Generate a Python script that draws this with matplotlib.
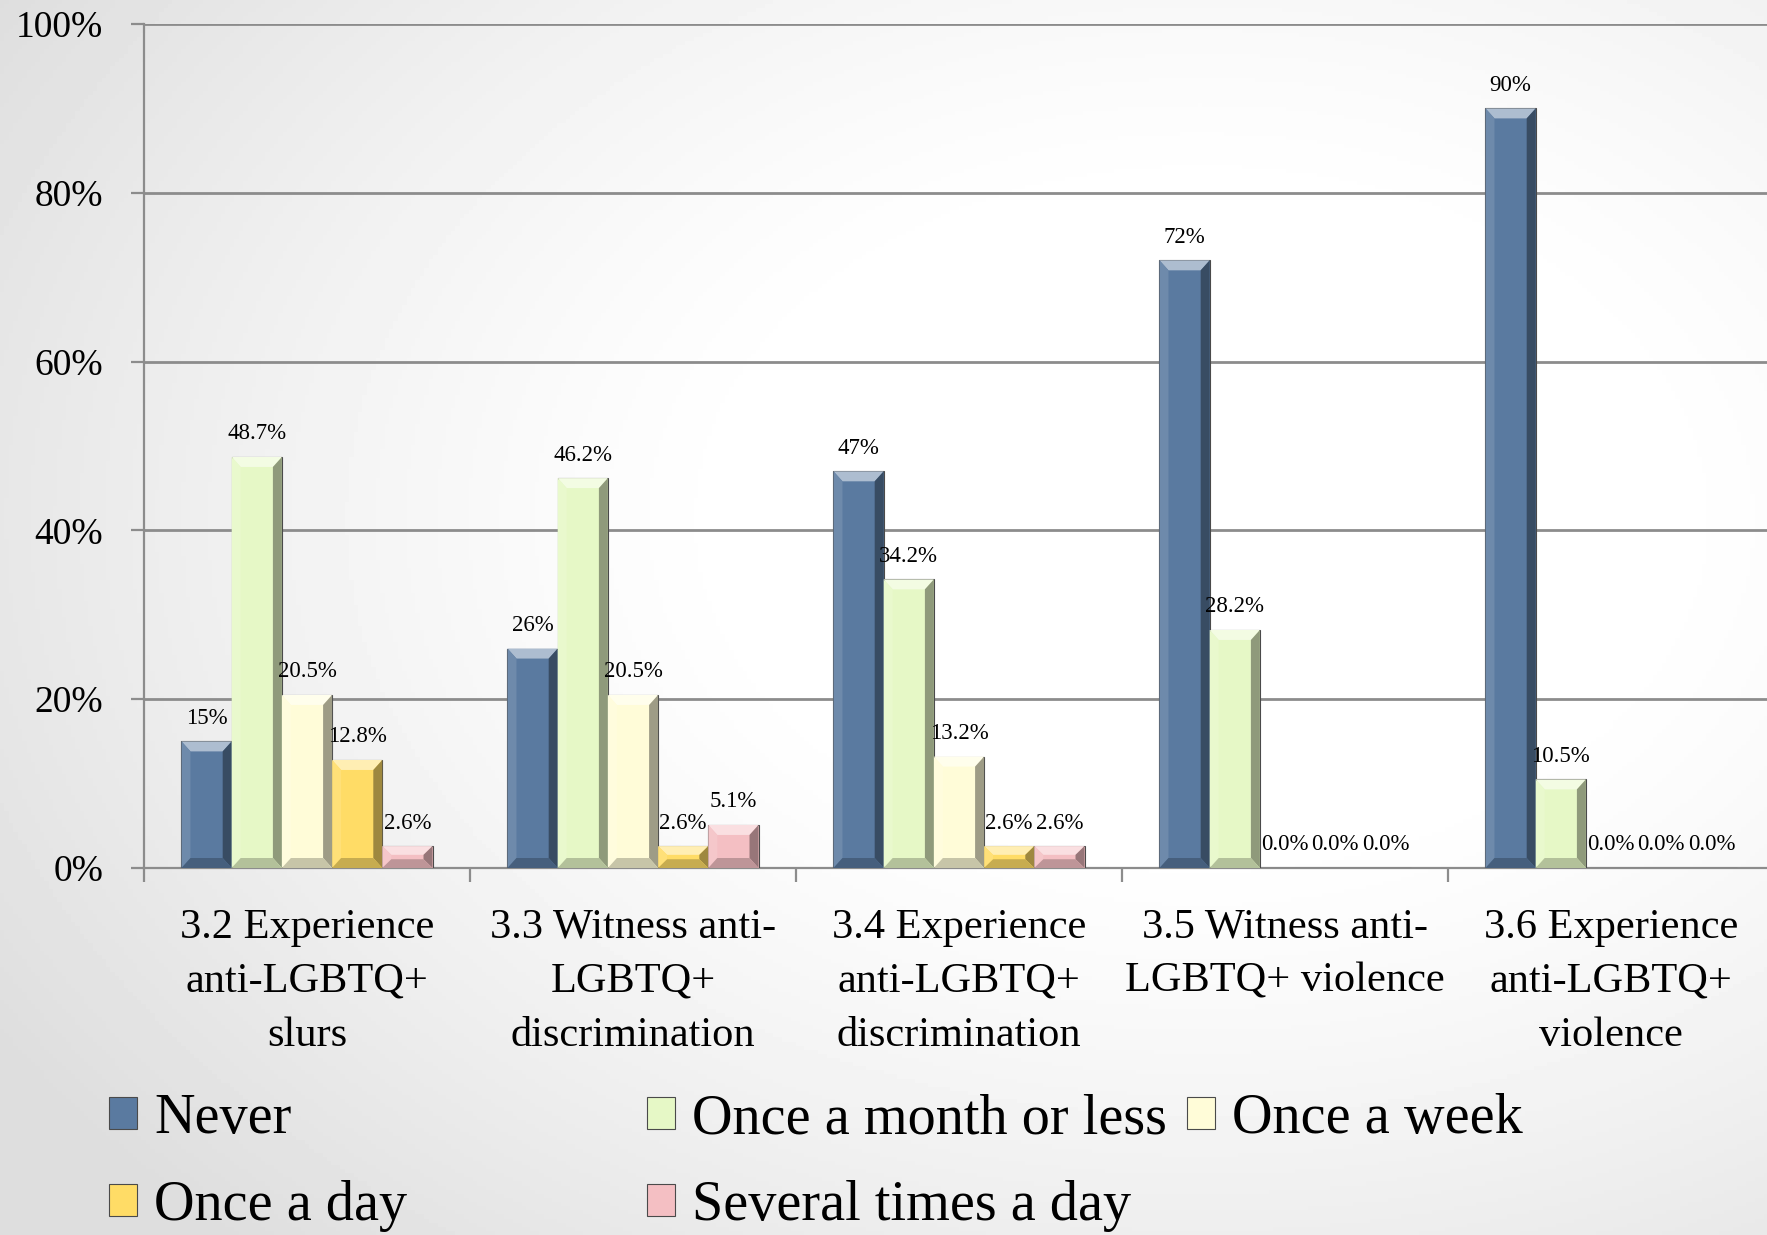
import numpy as np
import matplotlib
matplotlib.use("Agg")
import matplotlib.pyplot as plt
from matplotlib.patches import Polygon
from matplotlib import colors as mcolors

categories = [
    "3.2 Experience\nanti-LGBTQ+\nslurs",
    "3.3 Witness anti-\nLGBTQ+\ndiscrimination",
    "3.4 Experience\nanti-LGBTQ+\ndiscrimination",
    "3.5 Witness anti-\nLGBTQ+ violence",
    "3.6 Experience\nanti-LGBTQ+\nviolence",
]
series_names = ["Never", "Once a month or less", "Once a week", "Once a day", "Several times a day"]
never = [15, 26, 47, 72, 90]
once_month = [48.7, 46.2, 34.2, 28.2, 10.5]
once_week = [20.5, 20.5, 13.2, 0.0, 0.0]
once_day = [12.8, 2.6, 2.6, 0.0, 0.0]
several_day = [2.6, 5.1, 2.6, 0.0, 0.0]
label_formats = ["{:.0f}%", "{:.1f}%", "{:.1f}%", "{:.1f}%", "{:.1f}%"]
series_values = [never, once_month, once_week, once_day, several_day]
series_colors = ["#5A7AA0", "#E6F8C6", "#FFFCD8", "#FFDC66", "#F4BFC3"]
yticks = [0, 20, 40, 60, 80, 100]

FONT = "Liberation Serif"
plt.rcParams["font.family"] = [FONT, "DejaVu Serif"]

W, H, DPI = 1767, 1235, 100
fig = plt.figure(figsize=(W / DPI, H / DPI), dpi=DPI)

# background gradient
bg = fig.add_axes([0, 0, 1, 1], zorder=-10)
yy, xx = np.mgrid[0:1:300j, 0:1:400j]
r = np.sqrt(((xx - 0.68) / 1.0) ** 2 + ((yy - 0.42) / 1.0) ** 2)
val = 1.0 - 0.13 * np.clip((r - 0.25) / 0.55, 0, 1) ** 1.3
bg.imshow(val, cmap="gray", vmin=0, vmax=1, aspect="auto", extent=[0, 1, 0, 1], origin="upper")
bg.axis("off")

ax_left, ax_bottom = 144 / W, 1 - 868 / H
ax_w, ax_h = 1630 / W, (868 - 24) / H
ax = fig.add_axes([ax_left, ax_bottom, ax_w, ax_h])
ax.patch.set_alpha(0)

n = len(series_values)
x = np.arange(len(categories))
bw = 0.154
offsets = (np.arange(n) - (n - 1) / 2) * bw
ax.set_xlim(-0.5, len(categories) - 0.5)
ax.set_ylim(0, 100)

px_x = (len(categories)) / 1630.0  # data units per pixel in x
px_y = 100.0 / 844.0


def shade(c, f):
    rgb = np.array(mcolors.to_rgb(c))
    if f >= 0:
        return tuple(rgb + (1 - rgb) * f)
    return tuple(rgb * (1 + f))


containers = []
for i, (vals, col, fmt) in enumerate(zip(series_values, series_colors, label_formats)):
    bc = ax.bar(x + offsets[i], vals, width=bw, color=col, edgecolor="#4a4a4a",
                linewidth=0.8, zorder=3, label=series_names[i])
    containers.append(bc)
    for rect, v in zip(bc.patches, vals):
        x0, y0 = rect.get_x(), rect.get_y()
        w, h = rect.get_width(), rect.get_height()
        if h > 0:
            bx = 9 * px_x
            by = min(10 * px_y, h / 2.5)
            x1, y1 = x0 + w, y0 + h
            faces = [
                ([(x0, y1), (x1, y1), (x1 - bx, y1 - by), (x0 + bx, y1 - by)], shade(col, 0.5)),
                ([(x0, y0), (x0 + bx, y0 + by), (x0 + bx, y1 - by), (x0, y1)], shade(col, 0.12)),
                ([(x1, y0), (x1, y1), (x1 - bx, y1 - by), (x1 - bx, y0 + by)], shade(col, -0.38)),
                ([(x0, y0), (x1, y0), (x1 - bx, y0 + by), (x0 + bx, y0 + by)], shade(col, -0.22)),
            ]
            for pts, fc in faces:
                ax.add_patch(Polygon(pts, closed=True, facecolor=fc, edgecolor="none", zorder=4))
        ax.annotate(fmt.format(v), (x0 + w / 2, y0 + h), xytext=(0, 9), textcoords="offset points",
                    ha="center", va="bottom", fontsize=16.5, color="black", zorder=5)

# grid and axes styling
ax.set_yticks(yticks)
ax.set_yticklabels([f"{t}%" for t in yticks], fontsize=27)
ax.yaxis.grid(True, color="#8c8c8c", linewidth=2, zorder=0)
ax.set_axisbelow(True)
ax.tick_params(axis="y", length=9.5, width=1.6, color="#8c8c8c", pad=20, direction="out")
ax.set_xticks(x)
ax.set_xticklabels(categories, fontsize=30.5, linespacing=1.53, va="top")
ax.tick_params(axis="x", which="major", length=0, pad=29)
ax.set_xticks(np.arange(-0.5, len(categories), 1.0), minor=True)
ax.tick_params(axis="x", which="minor", length=10, width=1.6, color="#8c8c8c", direction="out")
for s in ["top", "right"]:
    ax.spines[s].set_visible(False)
for s in ["left", "bottom"]:
    ax.spines[s].set_color("#8c8c8c")
    ax.spines[s].set_linewidth(1.6)

# legend entries placed individually
legend_pos = [(109 / W, 1 - 1119 / H), (647 / W, 1 - 1119 / H), (1187 / W, 1 - 1119 / H),
              (109 / W, 1 - 1206 / H), (647 / W, 1 - 1206 / H)]
for bc, name, pos in zip(containers, series_names, legend_pos):
    lg = fig.legend(handles=[bc], labels=[name], loc="center left", bbox_to_anchor=pos,
                    frameon=False, fontsize=40.5, handlelength=0.5, handleheight=0.5,
                    handletextpad=0.3, borderpad=0, borderaxespad=0)

fig.savefig("out.png", dpi=DPI)
